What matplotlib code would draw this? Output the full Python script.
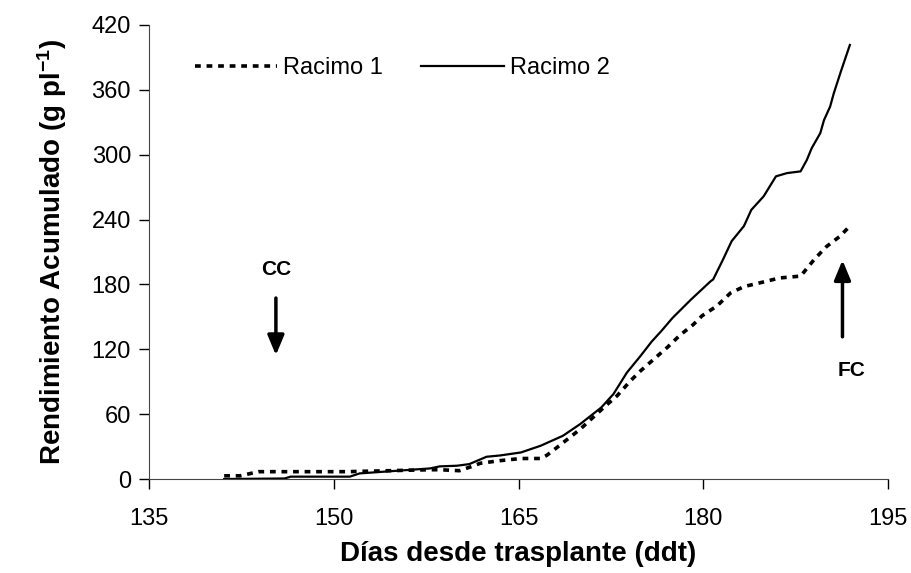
import matplotlib
matplotlib.use('Agg')
import matplotlib.pyplot as plt

plt.rcParams['font.family'] = ['Liberation Sans', 'DejaVu Sans']
plt.rcParams['mathtext.fontset'] = 'custom'
plt.rcParams['mathtext.rm'] = 'Liberation Sans'
plt.rcParams['mathtext.bf'] = 'Liberation Sans:bold'

## data
dias_r1 = [141.1, 142.4, 143.9, 151.1, 157.8, 158.6, 160.2, 161.3, 161.9, 163.5,
           165.2, 166.8, 167.3, 168.1, 170.0, 171.9, 173.0, 174.1, 174.9, 176.1,
           177.1, 178.1, 179.2, 179.9, 181.1, 182.2, 183.3, 184.6, 186.2, 187.9,
           189.0, 190.0, 191.1, 191.9]
rend_r1 = [3, 3, 6.8, 6.8, 8.6, 8.6, 7.7, 12, 14.6, 17,
           19, 19, 22, 29, 46, 66, 77, 91, 100, 112,
           122, 133, 143, 151, 160, 172, 178, 181.5, 186, 187.7,
           203, 215, 224.6, 234]

dias_r2 = [141.1, 146.0, 146.5, 151.3, 152.1, 157.8, 158.6, 160.0, 161.0, 162.4,
           163.5, 165.2, 166.8, 168.6, 170.0, 171.7, 172.7, 173.8, 174.9, 175.8,
           176.6, 177.5, 179.0, 180.6, 180.8, 181.6, 182.3, 183.3, 183.9, 184.9,
           185.9, 186.8, 187.9, 188.4, 188.8, 189.5, 189.8, 190.3, 190.6, 191.2,
           191.9]
rend_r2 = [0, 0.5, 2.2, 2.2, 5.2, 9.8, 11.7, 12.3, 13.8, 20.6,
           21.8, 24.6, 30.8, 40, 50.8, 66, 78.5, 98.5, 113.8, 127,
           137, 149, 166, 183, 184.6, 203, 220, 234, 249, 261.5,
           280, 283, 284.6, 295, 306, 320, 332, 344.6, 357, 378,
           401.5]

xticks = [135, 150, 165, 180, 195]
yticks = [0, 60, 120, 180, 240, 300, 360, 420]

fig = plt.figure(figsize=(9.11, 5.73), dpi=100)
ax = fig.add_axes([0.1636, 0.164, 0.8112, 0.7924])

ax.plot(dias_r1, rend_r1, color='black', lw=2.6, linestyle=(0, (1.6, 1.6)),
        label='Racimo 1')
ax.plot(dias_r2, rend_r2, color='black', lw=1.6, label='Racimo 2')

ax.set_xlim(135, 195)
ax.set_ylim(0, 420)
ax.set_xticks(xticks)
ax.set_yticks(yticks)
ax.tick_params(axis='both', direction='out', length=7, width=1, labelsize=17, pad=6)
ax.tick_params(axis='x', pad=14)
for s in ['top', 'right']:
    ax.spines[s].set_visible(False)
for s in ['left', 'bottom']:
    ax.spines[s].set_color('#444444')

ax.set_xlabel('Días desde trasplante (ddt)', fontsize=20, fontweight='bold', labelpad=8)
ax.set_ylabel(r'Rendimiento Acumulado (g pl$\mathbf{^{-1}}$)', fontsize=20,
              fontweight='bold', labelpad=16)

ax.legend(loc='center left', bbox_to_anchor=(0.062, 0.905), ncol=2, frameon=False,
          fontsize=17, handlelength=3.5, handletextpad=0.25, columnspacing=1.6,
          borderpad=0, borderaxespad=0)

# arrows CC and FC
arrow = dict(arrowstyle='-|>,head_width=0.5,head_length=1.2', color='black', lw=2.5)
ax.annotate('', xy=(145.3, 112), xytext=(145.3, 170), arrowprops=arrow)
ax.text(145.3, 194, 'CC', ha='center', va='center', fontsize=15, fontweight='bold')
ax.annotate('', xy=(191.3, 205), xytext=(191.3, 129), arrowprops=arrow)
ax.text(192.0, 100, 'FC', ha='center', va='center', fontsize=15, fontweight='bold')

fig.savefig('out.png', dpi=100)
